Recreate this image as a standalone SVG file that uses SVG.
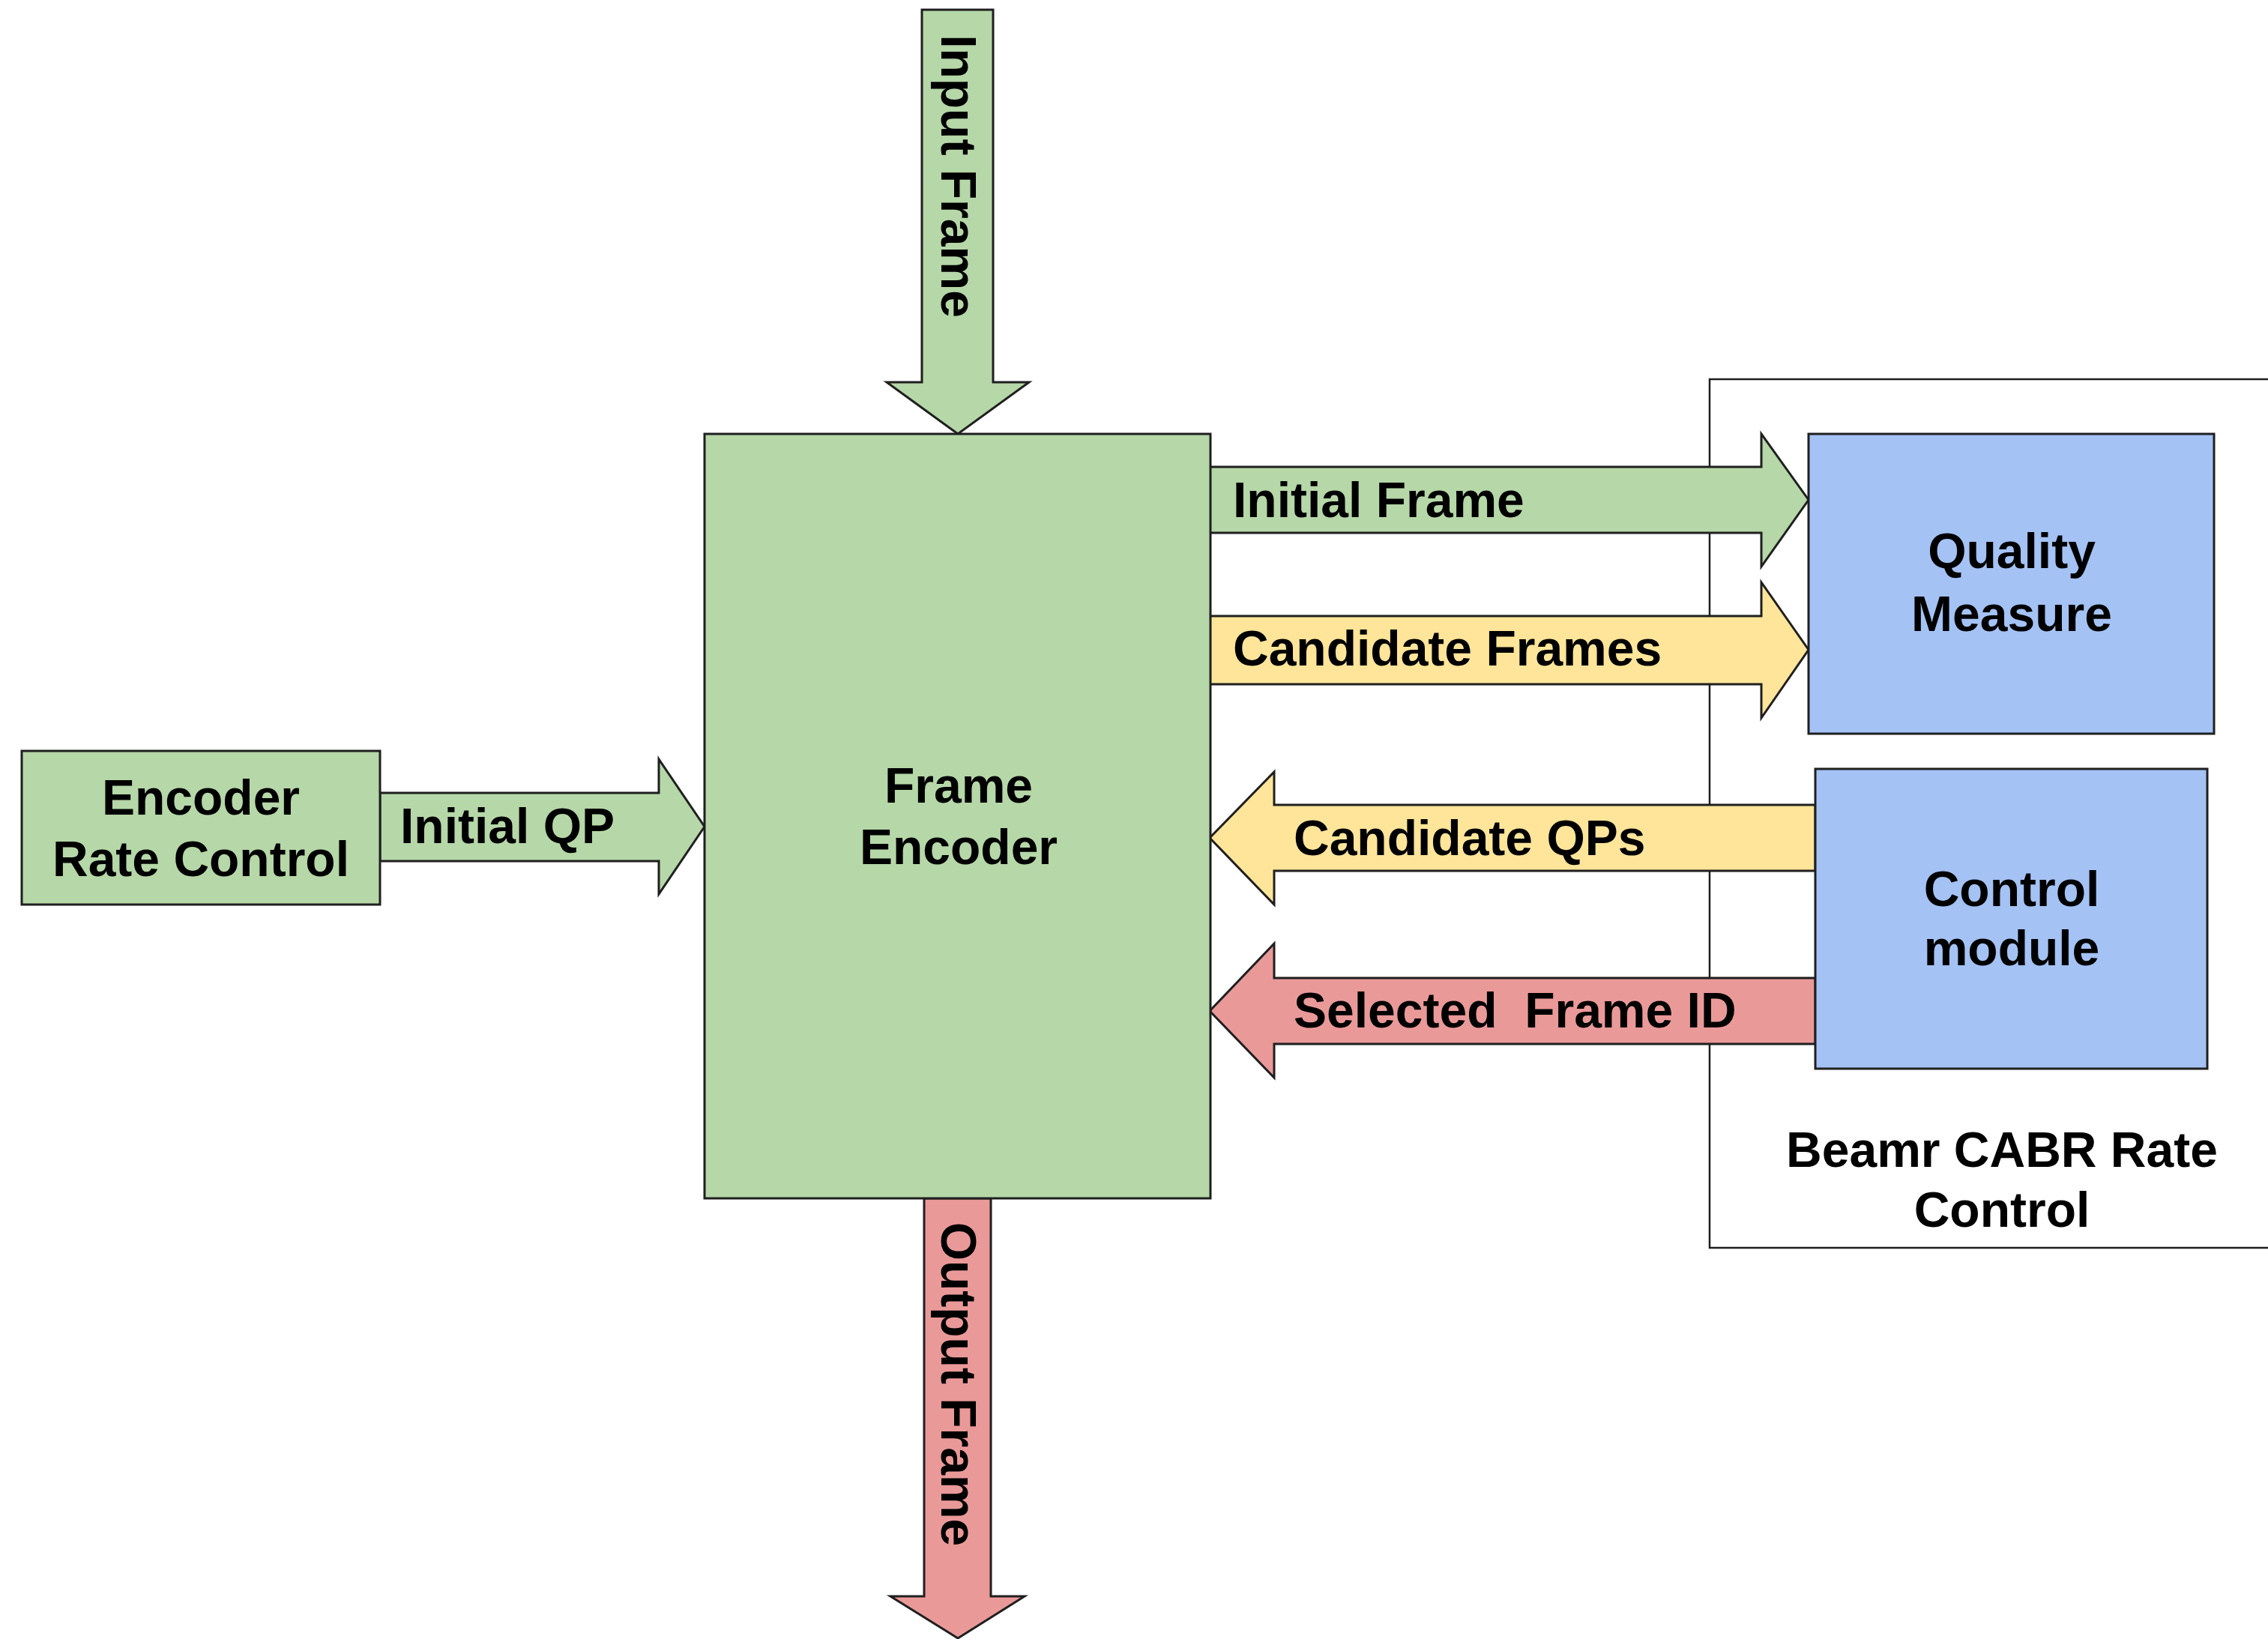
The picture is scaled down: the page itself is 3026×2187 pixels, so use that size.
<svg xmlns="http://www.w3.org/2000/svg" width="3026" height="2187" viewBox="0 0 3026 2187">
  <style>
    .lbl { font-family: "Liberation Sans", Arial, sans-serif; font-weight: bold; font-size: 66px; fill: #000; }
    .mid { text-anchor: middle; }
    .box { stroke: #1f1f1f; stroke-width: 3; }
    .arrow { stroke: #1f1f1f; stroke-width: 3; stroke-linejoin: miter; }
    .green { fill: #b6d7a8; }
    .yellow { fill: #ffe599; }
    .red { fill: #ea9999; }
    .blue { fill: #a4c2f4; }
  </style>

  <rect width="3026" height="2187" fill="#ffffff"/>

  <!-- Beamr CABR rate control container (open to the right edge) -->
  <g id="cabr-container">
    <path d="M3030,506 L2281,506 L2281,1665 L3030,1665" fill="none" stroke="#1f1f1f" stroke-width="2.5"/>
    <text class="lbl mid" x="2671" y="1557">Beamr CABR Rate</text>
    <text class="lbl mid" x="2671" y="1637">Control</text>
  </g>

  <!-- Block arrows carrying data between the blocks -->
  <g id="connectors">
    <g id="input-frame">
      <polygon class="arrow green" points="1230,13 1325,13 1325,510 1373,510 1278,579 1183,510 1230,510"/>
      <text class="lbl mid" transform="translate(1256,235) rotate(90)">Input Frame</text>
    </g>
    <g id="output-frame">
      <polygon class="arrow red" points="1233,1599 1322,1599 1322,2130 1367,2130 1278,2186 1188,2130 1233,2130"/>
      <text class="lbl mid" transform="translate(1256,1847) rotate(90)">Output Frame</text>
    </g>
    <g id="initial-qp">
      <polygon class="arrow green" points="507,1058 879,1058 879,1013 940,1103 879,1193 879,1149 507,1149"/>
      <text class="lbl" x="534" y="1125">Initial QP</text>
    </g>
    <g id="initial-frame">
      <polygon class="arrow green" points="1614,623 2350,623 2350,579 2413,667 2350,756 2350,711 1614,711"/>
      <text class="lbl" x="1645" y="690">Initial Frame</text>
    </g>
    <g id="candidate-frames">
      <polygon class="arrow yellow" points="1612,822 2350,822 2350,777 2413,867 2350,958 2350,913 1612,913"/>
      <text class="lbl" x="1645" y="888">Candidate Frames</text>
    </g>
    <g id="candidate-qps">
      <polygon class="arrow yellow" points="2422,1074 1700,1074 1700,1030 1614,1118 1700,1207 1700,1162 2422,1162"/>
      <text class="lbl" x="1726" y="1141">Candidate QPs</text>
    </g>
    <g id="selected-frame-id">
      <polygon class="arrow red" points="2422,1305 1700,1305 1700,1259 1614,1349 1700,1438 1700,1393 2422,1393"/>
      <text class="lbl" x="1726" y="1371" xml:space="preserve">Selected  Frame ID</text>
    </g>
  </g>

  <g id="encoder-rate-control">
    <rect class="box green" x="29" y="1002" width="478" height="205"/>
    <text class="lbl mid" x="268" y="1087">Encoder</text>
    <text class="lbl mid" x="268" y="1169">Rate Control</text>
  </g>

  <g id="frame-encoder">
    <rect class="box green" x="940" y="579" width="675" height="1020"/>
    <text class="lbl mid" x="1279" y="1071">Frame</text>
    <text class="lbl mid" x="1279" y="1153">Encoder</text>
  </g>

  <g id="quality-measure">
    <rect class="box blue" x="2413" y="579" width="541" height="400"/>
    <text class="lbl mid" x="2684" y="758">Quality</text>
    <text class="lbl mid" x="2684" y="842">Measure</text>
  </g>

  <g id="control-module">
    <rect class="box blue" x="2422" y="1026" width="523" height="400"/>
    <text class="lbl mid" x="2684" y="1209">Control</text>
    <text class="lbl mid" x="2684" y="1288">module</text>
  </g>
</svg>
